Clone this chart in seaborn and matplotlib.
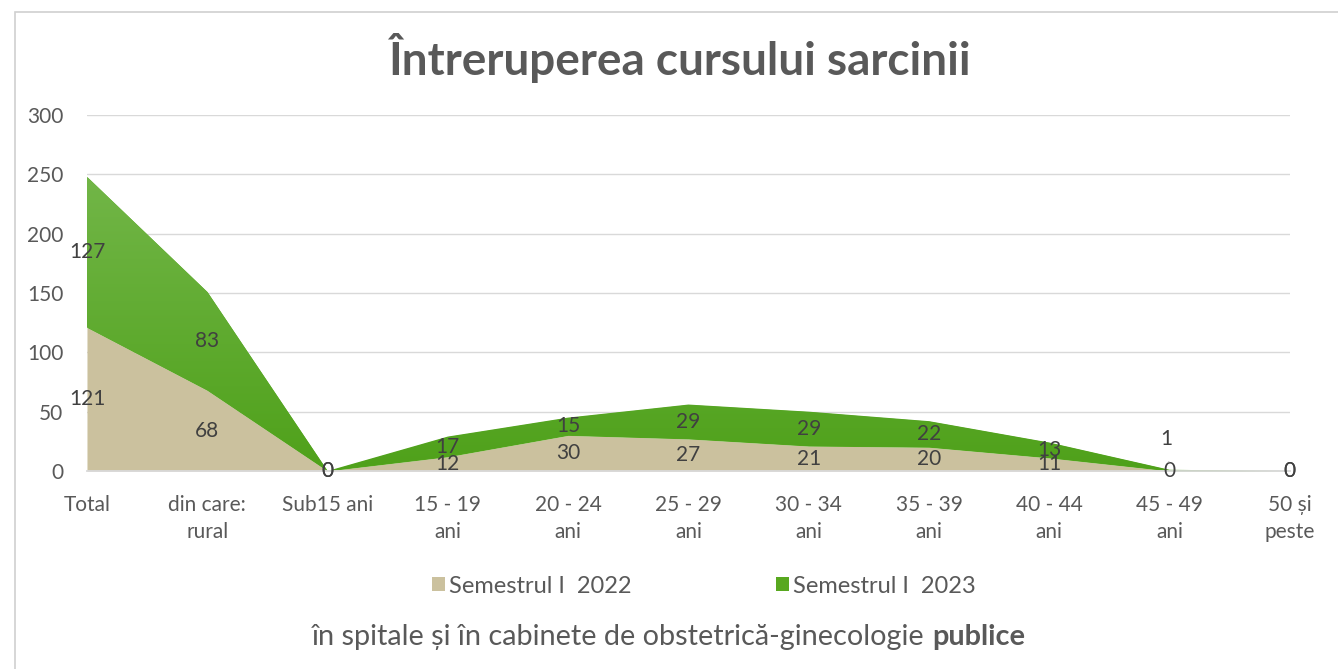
import numpy as np
import pandas as pd
import matplotlib
matplotlib.use("Agg")
import matplotlib.pyplot as plt
import seaborn as sns
from matplotlib.patches import Rectangle, Patch, PathPatch
from matplotlib.colors import LinearSegmentedColormap

categories = ["Total", "din care:\nrural", "Sub15 ani", "15 - 19\nani", "20 - 24\nani",
              "25 - 29\nani", "30 - 34\nani", "35 - 39\nani", "40 - 44\nani",
              "45 - 49\nani", "50 și\npeste"]
sem_2022 = [121, 68, 0, 12, 30, 27, 21, 20, 11, 0, 0]
sem_2023 = [127, 83, 0, 17, 15, 29, 29, 22, 13, 1, 0]
series_names = ["Semestrul I  2022", "Semestrul I  2023"]
y_ticks = [0, 50, 100, 150, 200, 250, 300]

title = "Întreruperea cursului sarcinii"
subtitle_normal = "în spitale și în cabinete de obstetrică-ginecologie "
subtitle_bold = "publice"

sns.set_theme(style="white")
FAM = ["Lato", "DejaVu Sans"]
plt.rcParams["font.family"] = FAM

TXT = "#595959"
LBL = "#404040"
TAN = "#CBC19E"
GREEN = "#58A81F"
GRID = "#D9D9D9"
FS = 15

df = pd.DataFrame({"cat": categories, series_names[0]: sem_2022, series_names[1]: sem_2023})
x = np.arange(len(df))

fig = plt.figure(figsize=(13.38, 6.69), dpi=100)
ax = fig.add_axes([0.065, 0.296, 0.899, 0.532])

# outer chart border
fig.patches.append(Rectangle((0.011, -0.01), 1.2, 0.992, transform=fig.transFigure,
                             fill=False, edgecolor="#D0D0D0", linewidth=1.2, zorder=0))

y1 = df[series_names[0]].to_numpy()
y2 = df[series_names[1]].to_numpy()
polys = ax.stackplot(x, y1, y2, colors=[TAN, GREEN], linewidth=0, zorder=2)

# vertical gradient on green band
cmap = LinearSegmentedColormap.from_list("g", ["#4FA11A", "#72B648"])
grad = np.linspace(0, 1, 256).reshape(-1, 1)
im = ax.imshow(grad, extent=[0, 10, 0, 250], origin="lower", aspect="auto", cmap=cmap, zorder=2.5)
clip = PathPatch(polys[1].get_paths()[0], transform=ax.transData, facecolor="none", edgecolor="none")
ax.add_patch(clip)
im.set_clip_path(clip)

ax.set_xlim(0, len(df) - 1)
ax.set_ylim(0, 300)
ax.set_yticks(y_ticks)
ax.set_yticklabels([str(v) for v in y_ticks])
ax.set_xticks(x)
ax.set_xticklabels(df["cat"])
ax.tick_params(axis="y", colors=TXT, labelsize=FS, length=0, pad=17)
ax.tick_params(axis="x", colors=TXT, labelsize=FS, length=5, width=1, color=GRID, pad=12, direction="out")
for lab in ax.get_xticklabels():
    lab.set_linespacing(1.45)
    lab.set_verticalalignment("top")
ax.grid(axis="y", color=GRID, linewidth=1, zorder=0)
ax.grid(axis="x", visible=False)
for s in ["left", "right", "top"]:
    ax.spines[s].set_visible(False)
ax.spines["bottom"].set_color(GRID)
ax.spines["bottom"].set_linewidth(1.3)
ax.spines["bottom"].set_zorder(4)
ax.set_axisbelow(True)

# data labels
for i in range(len(df)):
    a, b = y1[i], y2[i]
    ax.text(x[i], a / 2, str(a), ha="center", va="center", fontsize=FS, color=LBL, zorder=5)
    if i == 9:
        ax.annotate(str(b), xy=(x[i], a + b / 2 + 1), xytext=(-2, 22), textcoords="offset points",
                    ha="center", va="center", fontsize=FS, color=LBL, zorder=5,
                    arrowprops=dict(arrowstyle="-", color="#A6A6A6", lw=0.8, shrinkA=7, shrinkB=5))
    else:
        ax.text(x[i], a + b / 2, str(b), ha="center", va="center", fontsize=FS, color=LBL, zorder=5)

fig.text(0.508, 0.913, title, ha="center", va="center", fontsize=33, fontweight="bold", color=TXT)

LFS = 17
handles = [Patch(facecolor=TAN, edgecolor="none"), Patch(facecolor=GREEN, edgecolor="none")]
fig.legend(handles, series_names, loc="center", bbox_to_anchor=(0.526, 0.124), ncol=2, frameon=False,
           fontsize=LFS, labelcolor=TXT, handlelength=0.55, handleheight=0.55, handletextpad=0.17,
           columnspacing=6.1)

SFS = 20.8
t1 = fig.text(0.0, 0.048, subtitle_normal, ha="left", va="center", fontsize=SFS, color=TXT)
t2 = fig.text(0.0, 0.048, subtitle_bold, ha="left", va="center", fontsize=SFS, fontweight="bold", color=TXT)
fig.canvas.draw()
w1 = t1.get_window_extent().width
w2 = t2.get_window_extent().width
W = fig.bbox.width
x0 = 668.5 - (w1 + w2) / 2
t1.set_x(x0 / W)
t2.set_x((x0 + w1) / W)

fig.savefig("out.png", dpi=100)
